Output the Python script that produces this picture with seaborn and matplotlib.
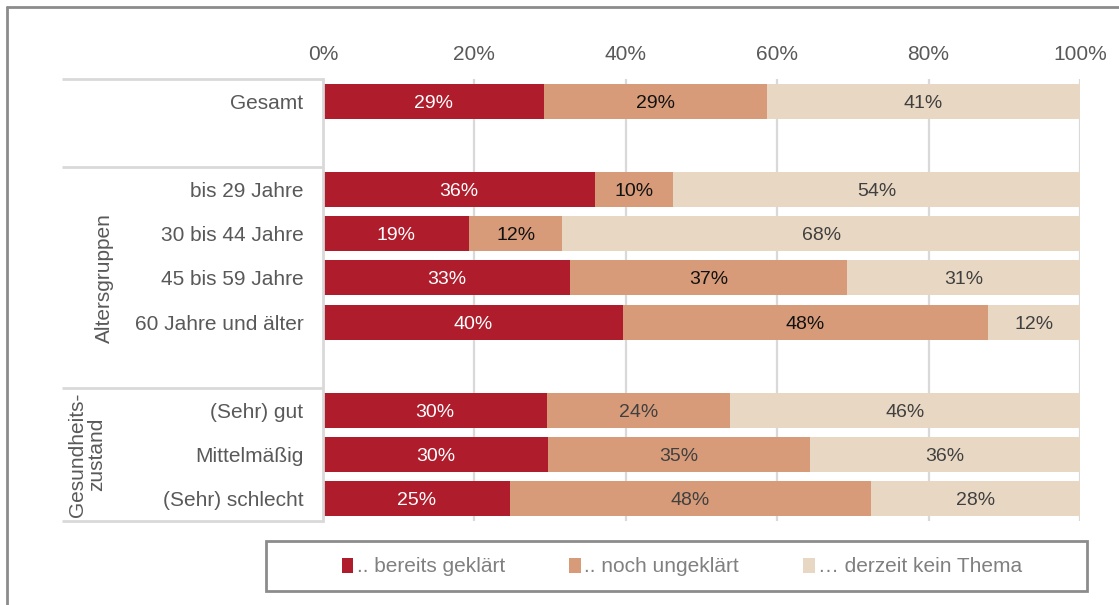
import matplotlib
matplotlib.use("Agg")
import matplotlib.pyplot as plt
import matplotlib.transforms as mtransforms
from matplotlib.lines import Line2D
from matplotlib.patches import Rectangle, Patch
import seaborn as sns
import pandas as pd
import numpy as np

# ---- data ----
rows = ["Gesamt", "bis 29 Jahre", "30 bis 44 Jahre", "45 bis 59 Jahre",
        "60 Jahre und älter", "(Sehr) gut", "Mittelmäßig", "(Sehr) schlecht"]
geklaert = [29.2, 35.9, 19.3, 32.6, 39.6, 29.6, 29.7, 24.7]
ungeklaert = [29.4, 10.3, 12.3, 36.6, 48.3, 24.1, 34.6, 47.7]
kein_thema = [41.4, 53.8, 68.4, 30.8, 12.1, 46.3, 35.7, 27.6]
series_names = [".. bereits geklärt", ".. noch ungeklärt", "… derzeit kein Thema"]
order = ["Gesamt", " ", "bis 29 Jahre", "30 bis 44 Jahre", "45 bis 59 Jahre",
         "60 Jahre und älter", "  ", "(Sehr) gut", "Mittelmäßig", "(Sehr) schlecht"]
groups = [("Altersgruppen", 1.5, 6.5), ("Gesundheits-\nzustand", 6.5, 9.5)]
separators = [-0.5, 1.5, 6.5, 9.5]
xticks = [0, 20, 40, 60, 80, 100]

colors = ["#AF1D2D", "#D79B79", "#E8D7C2"]
label_colors_mid = ["#111111"] * 5 + ["#404040"] * 3

sns.set_theme(style="white")
plt.rcParams["font.family"] = ["Liberation Sans", "DejaVu Sans"]

df = pd.DataFrame({"row": rows, "a": geklaert, "b": ungeklaert, "c": kein_thema})
df["cum1"] = df["a"]
df["cum2"] = df["a"] + df["b"]
df["cum3"] = df["a"] + df["b"] + df["c"]

fig = plt.figure(figsize=(11.19, 6.05), dpi=100)
W, H = 1119, 605
ax = fig.add_axes([323 / W, 1 - 521 / H, 757 / W, 442 / H])

for col, c in zip(["cum3", "cum2", "cum1"], colors[::-1]):
    sns.barplot(data=df, x=col, y="row", order=order, color=c, width=0.79,
                orient="h", saturation=1, ax=ax, linewidth=0, zorder=3)

ax.set_xlim(0, 100)
ax.set_ylim(9.5, -0.5)
ax.set_xlabel("")
ax.set_ylabel("")
ax.xaxis.tick_top()
ax.set_xticks(xticks)
ax.set_xticklabels([f"{t}%" for t in xticks])
ax.tick_params(axis="x", length=0, pad=10.5, labelsize=15, labelcolor="#595959")
ax.tick_params(axis="y", length=0, pad=14, labelsize=15, labelcolor="#595959")
ax.grid(axis="x", color="#D9D9D9", linewidth=1.6, zorder=0)
ax.set_axisbelow(True)
for s in ["top", "right", "bottom"]:
    ax.spines[s].set_visible(False)
ax.spines["left"].set_color("#D9D9D9")
ax.spines["left"].set_linewidth(2)
ax.spines["left"].set_zorder(5)

# segment labels
ypos = {name: order.index(name) for name in rows}
for i, name in enumerate(rows):
    y = ypos[name]
    a, b, c = geklaert[i], ungeklaert[i], kein_thema[i]
    ax.text(a / 2, y, f"{round(a)}%", ha="center", va="center_baseline",
            color="white", fontsize=14, zorder=6)
    ax.text(a + b / 2, y, f"{round(b)}%", ha="center", va="center_baseline",
            color=label_colors_mid[i], fontsize=14, zorder=6)
    ax.text(a + b + c / 2, y, f"{round(c)}%", ha="center", va="center_baseline",
            color="#404040", fontsize=14, zorder=6)

# group separators and labels
trans = mtransforms.blended_transform_factory(ax.transAxes, ax.transData)
x_left = (62 - 323) / 757
for s in separators:
    ax.plot([x_left, 0], [s, s], transform=trans, color="#D9D9D9", lw=2,
            clip_on=False, zorder=4, solid_capstyle="butt")
group_x = [(104 - 323) / 757, (87 - 323) / 757]
for (label, y0, y1), gx in zip(groups, group_x):
    ax.text(gx, (y0 + y1) / 2, label, transform=trans, rotation=90,
            ha="center", va="center", fontsize=15, color="#595959",
            multialignment="center", linespacing=1.05)

# outer frame (left and top visible)
fig.add_artist(Line2D([7 / W, 7 / W], [1 - 7 / H, 0], transform=fig.transFigure,
                      color="#8C8C8C", lw=2))
fig.add_artist(Line2D([7 / W, 1], [1 - 7 / H, 1 - 7 / H], transform=fig.transFigure,
                      color="#8C8C8C", lw=2))

# legend
fig.add_artist(Rectangle((266 / W, 1 - 591 / H), 821 / W, 50 / H,
                         transform=fig.transFigure, fill=False,
                         edgecolor="#8C8C8C", lw=2))
handles = [Patch(facecolor=c, edgecolor="none") for c in colors]
leg = fig.legend(handles, series_names, loc="center",
                 bbox_to_anchor=(682 / W, 1 - 567 / H), ncol=3, frameon=False,
                 fontsize=15, handlelength=0.55, handleheight=0.75,
                 handletextpad=0.15, columnspacing=3.1, labelcolor="#808080")

fig.savefig("out.png", dpi=100)
